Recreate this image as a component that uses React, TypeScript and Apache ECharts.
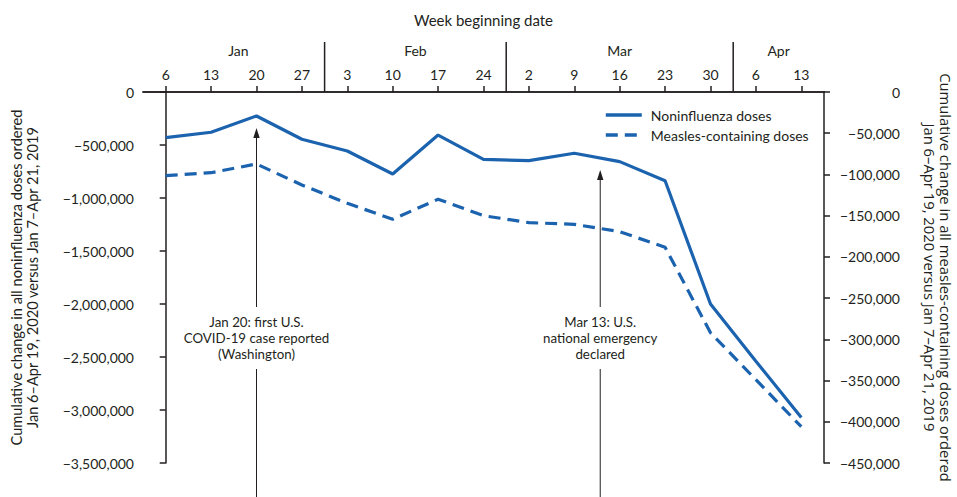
import React, { useEffect, useRef } from "react";
import * as echarts from "echarts";

const weeks = ["6", "13", "20", "27", "3", "10", "17", "24", "2", "9", "16", "23", "30", "6", "13"];
const noninfluenza = [-430000, -380000, -226000, -446000, -557000, -774000, -406000, -635000, -648000, -578000, -657000, -837000, -2000000, -2540000, -3070000];
const measles = [-101500, -97900, -87300, -112800, -135000, -154400, -130000, -150000, -158500, -160500, -169400, -188400, -292000, -349000, -406000];

const monthNames = ["Jan", "Feb", "Mar", "Apr"];
const monthCenters = [1.6, 5.5, 10, 13.5];
const monthBreaks = [3.5, 7.5, 12.5];

const annotDates = [2, 9.571];
const annotTips = [-340000, -736000];
const annotTextAt = [-2320000, -2320000];
const annotLabels = [
  "Jan 20: first U.S.\nCOVID-19 case reported\n(Washington)",
  "Mar 13: U.S.\nnational emergency\ndeclared",
];

const FONT = "Lato";
const FONT2 = "Open Sans";
const INK = "#231f20";
const BLUE = "#1b63ae";

const fmt = (v: number) => (v === 0 ? "0" : "\u2212" + Math.abs(v).toLocaleString("en-US"));

export default function App() {
  const ref = useRef<HTMLDivElement>(null);
  useEffect(() => {
    if (!ref.current) return;
    const chart = echarts.init(ref.current, undefined, { renderer: "svg" });
    const axisLine = { show: true, lineStyle: { color: INK, width: 1.5 } };
    const tick = { show: true, length: 6, lineStyle: { color: INK, width: 1.5 } };
    chart.setOption({
      animation: false,
      backgroundColor: "#fff",
      textStyle: { fontFamily: FONT, color: INK },
      grid: { left: 143, top: 92, width: 681, height: 371, outerBoundsMode: "none", containLabel: false },
      legend: {
        data: ["Noninfluenza doses", "Measles-containing doses"],
        orient: "vertical",
        left: 604,
        top: 108,
        padding: 0,
        itemWidth: 36,
        itemHeight: 14,
        itemGap: 6,
        itemStyle: { opacity: 0 },
        lineStyle: { opacity: 1, width: 3.6 },
        textStyle: { fontFamily: FONT, fontSize: 14, color: INK, padding: [0, 0, 0, 4] },
      },
      xAxis: [
        {
          type: "category",
          position: "top",
          data: weeks,
          boundaryGap: true,
          axisLine,
          axisTick: { ...tick, alignWithLabel: true },
          axisLabel: { margin: 11, fontSize: 14, color: INK, fontFamily: FONT, interval: 0 },
          splitLine: { show: false },
          name: "Week beginning date",
          nameLocation: "middle",
          nameGap: 65,
          nameTextStyle: { fontSize: 15, color: INK, fontFamily: FONT },
        },
        {
          type: "value",
          position: "bottom",
          min: -0.5,
          max: 14.5,
          axisLine,
          axisTick: { show: false },
          axisLabel: { show: false },
          splitLine: { show: false },
        },
      ],
      yAxis: [
        {
          type: "value",
          position: "left",
          min: -3500000,
          max: 0,
          interval: 500000,
          axisLine,
          axisTick: tick,
          splitLine: { show: false },
          axisLabel: { formatter: fmt, margin: 9, fontSize: 14, color: INK, fontFamily: FONT },
          name: "Cumulative change in all noninfluenza doses ordered\nJan 6\u2013Apr 19, 2020 versus Jan 7\u2013Apr 21, 2019",
          nameLocation: "middle",
          nameRotate: 90,
          nameGap: 103,
          nameTextStyle: { fontSize: 14.6, lineHeight: 15.5, color: INK, fontFamily: FONT },
        },
        {
          type: "value",
          position: "right",
          min: -450000,
          max: 0,
          interval: 50000,
          axisLine,
          axisTick: tick,
          splitLine: { show: false },
          axisLabel: { formatter: fmt, margin: 76, align: "right", fontSize: 14, color: INK, fontFamily: FONT },
          name: "Cumulative change in all measles-containing doses ordered\nJan 6\u2013Apr 19, 2020 versus Jan 7\u2013Apr 21, 2019",
          nameLocation: "middle",
          nameRotate: -90,
          nameGap: 98,
          nameTextStyle: { fontSize: 14.8, lineHeight: 16, color: INK, fontFamily: FONT2 },
        },
      ],
      series: [
        {
          name: "Noninfluenza doses",
          type: "line",
          xAxisIndex: 0,
          yAxisIndex: 0,
          data: noninfluenza,
          symbol: "none",
          color: BLUE,
          lineStyle: { color: BLUE, width: 3.2 },
          z: 5,
        },
        {
          name: "Measles-containing doses",
          type: "line",
          xAxisIndex: 0,
          yAxisIndex: 1,
          data: measles,
          symbol: "none",
          color: BLUE,
          lineStyle: { color: BLUE, width: 3.2, type: [12, 7] },
          z: 5,
        },
        {
          type: "custom",
          xAxisIndex: 1,
          yAxisIndex: 0,
          clip: false,
          silent: true,
          data: monthBreaks.map((b) => [b, 0]),
          renderItem: (params: any, api: any) => {
            const p = api.coord([api.value(0), api.value(1)]);
            return {
              type: "line",
              shape: { x1: p[0], y1: p[1], x2: p[0], y2: p[1] - 50 },
              style: { stroke: INK, lineWidth: 1.5 },
            };
          },
        },
        {
          type: "custom",
          xAxisIndex: 1,
          yAxisIndex: 0,
          clip: false,
          silent: true,
          data: monthCenters.map((c) => [c, 0]),
          renderItem: (params: any, api: any) => {
            const p = api.coord([api.value(0), api.value(1)]);
            return {
              type: "text",
              x: p[0],
              y: p[1] - 42,
              style: {
                text: monthNames[params.dataIndex],
                align: "center",
                verticalAlign: "middle",
                fontSize: 14,
                fontFamily: FONT,
                fill: INK,
              },
            };
          },
        },
        {
          type: "custom",
          xAxisIndex: 1,
          yAxisIndex: 0,
          clip: false,
          silent: true,
          z: 3,
          data: annotDates.map((d, i) => [d, annotTips[i], annotTextAt[i]]),
          renderItem: (params: any, api: any) => {
            const tip = api.coord([api.value(0), api.value(1)]);
            const mid = api.coord([api.value(0), api.value(2)]);
            const h = api.getHeight();
            return {
              type: "group",
              children: [
                {
                  type: "line",
                  shape: { x1: tip[0], y1: tip[1] + 6, x2: tip[0], y2: h + 5 },
                  style: { stroke: INK, lineWidth: 1 },
                },
                {
                  type: "polygon",
                  shape: {
                    points: [
                      [tip[0], tip[1]],
                      [tip[0] - 3.2, tip[1] + 10],
                      [tip[0] + 3.2, tip[1] + 10],
                    ],
                  },
                  style: { fill: INK },
                },
                {
                  type: "text",
                  x: mid[0],
                  y: mid[1],
                  style: {
                    text: annotLabels[params.dataIndex],
                    align: "center",
                    verticalAlign: "middle",
                    fontSize: 13.3,
                    lineHeight: 16,
                    fontFamily: FONT,
                    fill: INK,
                    backgroundColor: "#fff",
                    padding: [7, 3],
                  },
                },
              ],
            };
          },
        },
      ],
    });
    return () => chart.dispose();
  }, []);
  return (
    <div
      ref={ref}
      style={{ position: "fixed", left: 0, top: 0, width: 957, height: 497, background: "#fff" }}
    />
  );
}
